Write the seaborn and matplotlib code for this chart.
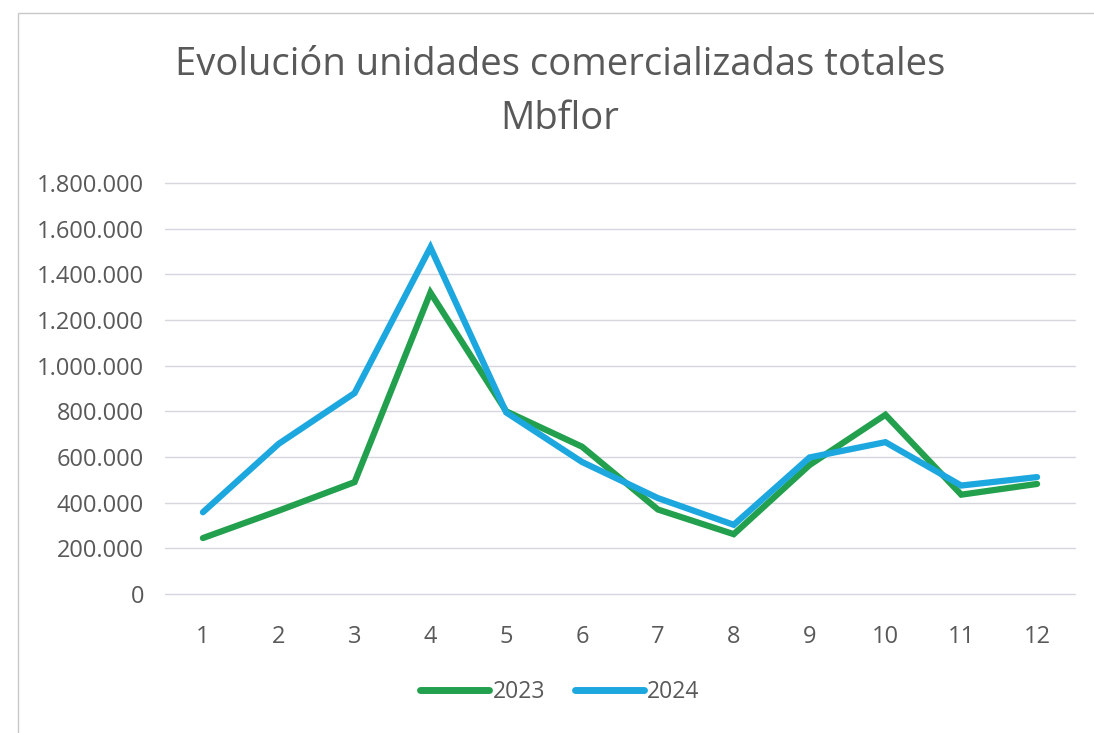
import matplotlib
matplotlib.use("Agg")
import matplotlib.pyplot as plt
import matplotlib.ticker as mticker
import seaborn as sns
import pandas as pd
from matplotlib.patches import Rectangle

months = list(range(1, 13))
v2023 = [245000, 365000, 490000, 1320000, 800000, 645000, 370000, 262000, 565000, 785000, 435000, 482000]
v2024 = [358000, 658000, 880000, 1518000, 795000, 578000, 420000, 303000, 598000, 665000, 475000, 512000]
series_names = ["2023", "2024"]
colors = ["#23A04E", "#1DA7DF"]
title = "Evolución unidades comercializadas totales\nMbflor"

df = pd.DataFrame({
    "mes": months * 2,
    "valor": v2023 + v2024,
    "serie": [series_names[0]] * 12 + [series_names[1]] * 12,
})

sns.set_theme(style="white")
plt.rcParams['font.family'] = ['Open Sans', 'DejaVu Sans']

fig = plt.figure(figsize=(10.94, 7.33), dpi=100)
ax = fig.add_axes([165/1094, 1 - 594/733, (1075-165)/1094, (594-183)/733])

sns.lineplot(data=df, x="mes", y="valor", hue="serie", palette=colors,
             linewidth=4.5, ax=ax, legend=True, sort=False,
             solid_capstyle="round", solid_joinstyle="miter")

ax.set_xlim(0.5, 12.5)
ax.set_ylim(0, 1800000)
ax.set_yticks(range(0, 1800001, 200000))
ax.set_xticks(months)
ax.yaxis.set_major_formatter(mticker.FuncFormatter(lambda v, p: f"{int(v):,}".replace(",", ".")))
ax.grid(axis="y", color="#D6D6DE", linewidth=1.0)
for gl in ax.get_ygridlines():
    gl.set_clip_on(False)
ax.set_axisbelow(True)
for s in ax.spines.values():
    s.set_visible(False)
ax.tick_params(axis="both", length=0, labelsize=17, labelcolor="#595959")
ax.tick_params(axis="y", pad=15)
ax.tick_params(axis="x", pad=22)
ax.set_xlabel("")
ax.set_ylabel("")

leg = ax.legend(loc="center", bbox_to_anchor=((560-165)/910, (594-692)/(594-183)), ncol=2,
                frameon=False, fontsize=16.5, handlelength=3.0, handletextpad=0.15,
                columnspacing=1.3)
for t in leg.get_texts():
    t.set_color("#595959")
for h in leg.get_lines():
    h.set_linewidth(5)

fig.text(560/1094, 1 - 92/733, title, ha="center", va="center", fontsize=27.5,
         color="#595959", linespacing=1.55)

fig.patches.append(Rectangle((18/1094, -0.01), 1.1, 1 - 13/733 + 0.01,
                             transform=fig.transFigure, fill=False,
                             edgecolor="#C8C8C8", linewidth=1))

fig.savefig("out.png", dpi=100, facecolor="white")
